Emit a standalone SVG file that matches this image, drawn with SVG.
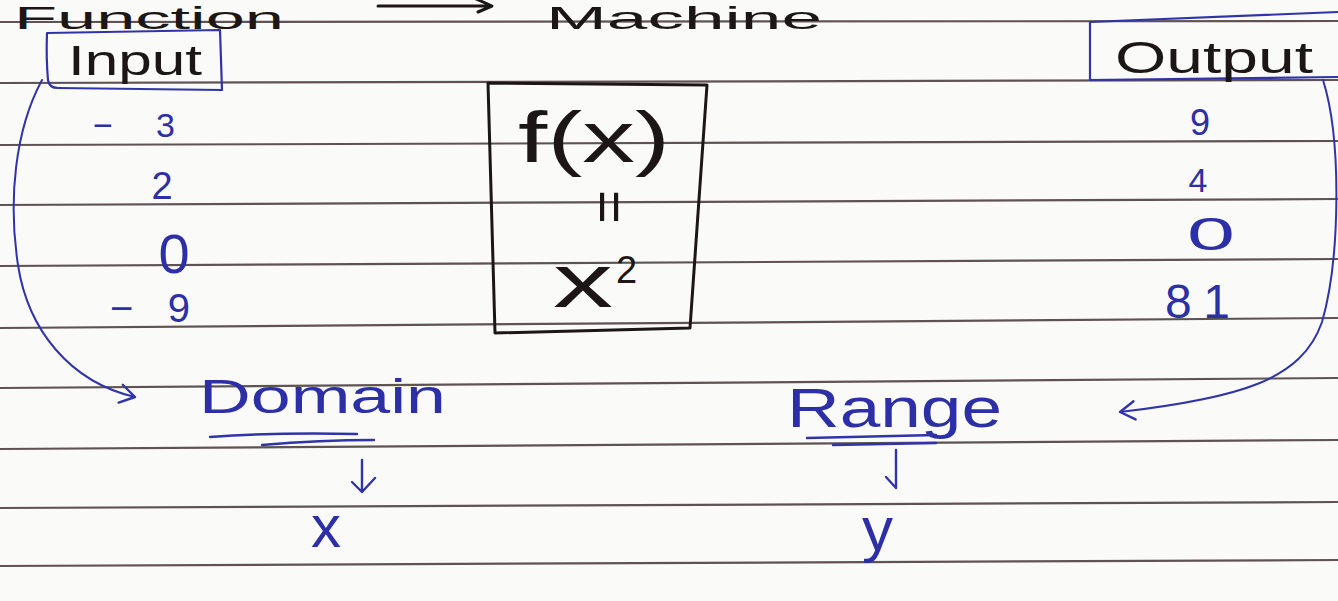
<svg xmlns="http://www.w3.org/2000/svg" width="1338" height="601" viewBox="0 0 1338 601">
<defs>
<style>
.ink{font-family:"Liberation Sans",Arial,sans-serif;font-weight:400;}
.k{fill:#1c1616;}
.b{fill:#2c2fa6;}
.rule{stroke:#5e5352;stroke-width:2.2;fill:none;}
.bl{stroke:#3134a8;fill:none;stroke-linecap:round;stroke-linejoin:round;}
.bk{stroke:#1c1616;fill:none;stroke-linecap:round;stroke-linejoin:round;}
</style>
<marker id="chev" viewBox="0 0 24 24" refX="20" refY="12" markerWidth="22" markerHeight="22" markerUnits="userSpaceOnUse" orient="auto">
<path d="M4 2 L20 12 L4 22" fill="none" stroke="#3134a8" stroke-width="2.6" stroke-linecap="round" stroke-linejoin="round"/>
</marker>
</defs>
<rect width="1338" height="601" fill="#fafaf8"/>
<g id="ruled-lines" class="rule">
<line x1="0" y1="22" x2="1338" y2="21"/>
<line x1="0" y1="83" x2="1338" y2="80"/>
<line x1="0" y1="145" x2="1338" y2="141"/>
<line x1="0" y1="205" x2="1338" y2="199"/>
<line x1="0" y1="266" x2="1338" y2="259"/>
<line x1="0" y1="328" x2="1338" y2="318"/>
<line x1="0" y1="388" x2="1338" y2="378"/>
<line x1="0" y1="449" x2="1338" y2="440"/>
<line x1="0" y1="508" x2="1338" y2="502"/>
<line x1="0" y1="566" x2="1338" y2="560"/>
</g>
<g id="title">
<text class="ink k" x="14" y="29" font-size="32" textLength="270" lengthAdjust="spacingAndGlyphs">Function</text>
<text class="ink k" x="546" y="29" font-size="32" textLength="276" lengthAdjust="spacingAndGlyphs">Machine</text>
</g>
<g id="input-node">
<path class="bl" stroke-width="2.2" d="M48 80 Q46 58 47 33 L220 30 L222 90 L58 88 Q49 88 48 80 Z"/>
<text class="ink k" x="68" y="75" font-size="42" textLength="134" lengthAdjust="spacingAndGlyphs">Input</text>
</g>
<g id="output-node">
<path class="bl" stroke-width="2.2" d="M1338 12 L1090 22 L1090 80 L1338 77"/>
<text class="ink k" x="1115" y="73" font-size="44" textLength="198" lengthAdjust="spacingAndGlyphs">Output</text>
</g>
<g id="input-values" class="ink b">
<text x="93" y="137" font-size="34" textLength="82" lengthAdjust="spacing">−3</text>
<text x="162" y="199" font-size="38" text-anchor="middle">2</text>
<text x="174" y="273" font-size="56" text-anchor="middle">0</text>
<text x="110" y="322" font-size="40" textLength="80" lengthAdjust="spacing">−9</text>
</g>
<g id="output-values" class="ink b">
<text x="1200" y="135" font-size="36" text-anchor="middle">9</text>
<text x="1198" y="192" font-size="34" text-anchor="middle">4</text>
<text x="1187" y="250" font-size="46" textLength="48" lengthAdjust="spacingAndGlyphs">0</text>
<text x="1165" y="318" font-size="48" textLength="65" lengthAdjust="spacing">81</text>
</g>
<g id="machine-node">
<path class="bk" stroke-width="3" d="M488 83 L707 85 L690 328 L495 333 Z"/>
<text class="ink k" x="518" y="162" font-size="72" textLength="152" lengthAdjust="spacingAndGlyphs">f(x)</text>
<text class="ink k" x="0" y="0" font-size="58" text-anchor="middle" dominant-baseline="central" transform="translate(610 207) rotate(90)">=</text>
<text class="ink k" x="553" y="307" font-size="76" textLength="60" lengthAdjust="spacingAndGlyphs">x</text>
<text class="ink k" x="616" y="283" font-size="38">2</text>
</g>
<g id="domain-node">
<text class="ink b" x="199" y="413" font-size="48" textLength="247" lengthAdjust="spacingAndGlyphs">Domain</text>
<path class="bl" stroke-width="2.4" d="M210 437 Q280 432 357 434 M262 445 Q320 440 374 440"/>
</g>
<g id="range-node">
<text class="ink b" x="787" y="427" font-size="56" textLength="215" lengthAdjust="spacingAndGlyphs">Range</text>
<path class="bl" stroke-width="2.4" d="M807 438 L936 435 M833 445 L936 443"/>
</g>
<g id="x-node">
<text class="ink b" x="311" y="547" font-size="60">x</text>
</g>
<g id="y-node">
<text class="ink b" x="862" y="550" font-size="62">y</text>
</g>
<g id="connectors">
<path class="bk" stroke-width="3" d="M378 6 L490 6 M474 -2 L492 6 L478 12"/>
<path class="bl" stroke-width="2" d="M42 80 C15 130 8 200 18 265 C28 330 70 382 135 397" marker-end="url(#chev)"/>
<path class="bl" stroke-width="2" d="M1323 80 C1342 140 1340 260 1322 322 C1302 380 1240 398 1120 412" marker-end="url(#chev)"/>
<path class="bl" stroke-width="2.4" d="M362 460 L362 492 M352 482 L362 492 L375 478"/>
<path class="bl" stroke-width="2.4" d="M896 450 L896 488 M886 477 L896 488"/>
</g>
</svg>
